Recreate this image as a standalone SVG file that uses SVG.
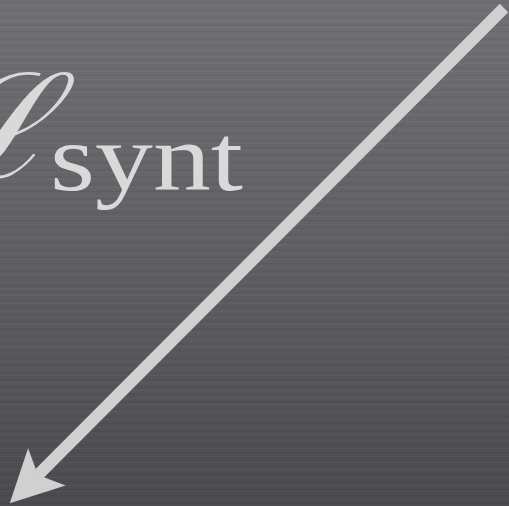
<svg xmlns="http://www.w3.org/2000/svg" width="509" height="506" viewBox="0 0 509 506">
<defs>
<linearGradient id="bg" x1="0" y1="0" x2="0" y2="1">
<stop offset="0" stop-color="#707074"/>
<stop offset="0.5" stop-color="#606064"/>
<stop offset="1" stop-color="#4b4b4f"/>
</linearGradient>
<pattern id="brush" width="509" height="29" patternUnits="userSpaceOnUse">
<rect x="0" y="2" width="509" height="1" fill="#000" opacity="0.05"/>
<rect x="0" y="5" width="509" height="1" fill="#fff" opacity="0.03"/>
<rect x="0" y="9" width="509" height="2" fill="#000" opacity="0.04"/>
<rect x="0" y="13" width="509" height="1" fill="#fff" opacity="0.04"/>
<rect x="0" y="17" width="509" height="1" fill="#000" opacity="0.06"/>
<rect x="0" y="21" width="509" height="1" fill="#fff" opacity="0.03"/>
<rect x="0" y="24" width="509" height="2" fill="#000" opacity="0.03"/>
<rect x="0" y="27" width="509" height="1" fill="#fff" opacity="0.03"/>
</pattern>
<marker id="head" viewBox="-2 -30 58 60" markerWidth="58" markerHeight="60" refX="12" refY="0" orient="auto" markerUnits="userSpaceOnUse">
<path d="M52,0 L0,-27 L12,0 L0,26 Z" fill="#d0d0d0"/>
</marker>
<style>
.lbl{fill:#d9d9d9;font-family:"Liberation Serif","DejaVu Serif",serif}
.conn{stroke:#d0d0d0;stroke-width:12;fill:none;stroke-linecap:butt}
</style>
</defs>
<rect width="509" height="506" fill="url(#bg)"/>
<rect width="509" height="506" fill="url(#brush)"/>
<g id="label">
<text class="lbl" x="54" y="177" font-size="145" text-anchor="end" font-style="italic">ℒ</text>
<text class="lbl" x="50" y="190" font-size="95" textLength="193" lengthAdjust="spacingAndGlyphs">synt</text>
</g>
<g id="connectors">
<line class="conn" x1="504" y1="8" x2="38" y2="475" marker-end="url(#head)"/>
</g>
</svg>
